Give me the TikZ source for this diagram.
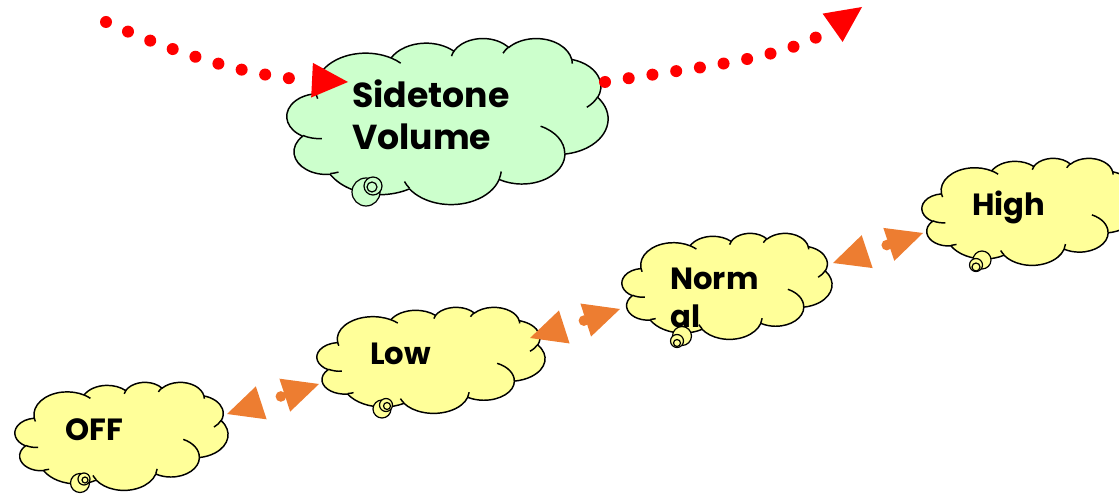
\documentclass[tikz,border=0pt]{standalone}
\usepackage{fontspec}
\setmainfont{Poppins}
\usetikzlibrary{arrows.meta}
\definecolor{cgreen}{HTML}{CCFFCC}
\definecolor{cyellow}{HTML}{FFFF99}
\definecolor{corange}{HTML}{ED7D31}
\definecolor{cred}{HTML}{FF0000}

% elliptic arc given DrawingML style (geometric angles in the shape's own square space)
\newcommand\carc[4]{arc[start angle={atan2(\ck*(#1)*sin(#3),(#2)*cos(#3))}, delta angle={mod(atan2(\ck*(#1)*sin((#3)+(#4)),(#2)*cos((#3)+(#4)))-atan2(\ck*(#1)*sin(#3),(#2)*cos(#3))+720,360)}, x radius=#1, y radius=#2]}

\newcommand\cloudat[6]{%
  \def\ck{1}%
  \pgfmathsetmacro\cux{#4*0.75/432}%
  \pgfmathsetmacro\cuy{#5*0.75/432}%
  \begin{scope}[shift={(#2,#3)}, x=\cux pt, y=-\cuy pt]
    \path[cloudline, fill=#6] (39.00,143.70)
      \carc{67.53}{91.90}{-190.4875}{123.7805}
      \carc{53.33}{72.67}{-144.1024}{89.9452}
      \carc{43.65}{59.45}{-145.8079}{99.7230}
      \carc{48.57}{65.95}{-130.9861}{117.2417}
      \carc{53.33}{72.73}{-78.7089}{109.0269}
      \carc{67.75}{92.20}{-46.2673}{130.2690}
      \carc{57.85}{78.67}{0.6250}{114.0333}
      \carc{67.52}{92.15}{22.4516}{115.1726}
      \carc{77.20}{105.43}{66.2426}{75.7110}
      \carc{43.60}{59.18}{-274.9421}{146.7356}
      \carc{43.45}{59.45}{-246.8285}{152.5189}
      -- cycle;
    \draw[cloudline]
      (46.93,261.77) \carc{43.45}{59.45}{86.742}{26.4295}
      (69.28,348.99) \carc{43.60}{59.18}{73.6105}{11.4475}
      (164.78,390.90) \carc{67.52}{92.15}{137.6242}{14.0811}
      (288.27,347.51) \carc{67.52}{92.15}{6.4533}{15.9984}
      (341.29,229.54) \carc{57.85}{78.67}{-70.2924}{70.9174}
      (417.98,153.54) \carc{53.33}{72.73}{30.3180}{27.7515}
      (383.24,54.26) \carc{48.57}{65.95}{-13.7443}{14.8505}
      (290.78,39.52) \carc{48.57}{65.95}{-149.1815}{18.1954}
      (221.41,47.20) \carc{43.65}{59.45}{-163.4943}{17.6864}
      (140.00,51.92) \carc{67.53}{91.90}{-66.7070}{12.3194}
      (41.27,157.89) \carc{67.53}{91.90}{157.6544}{11.8582};
    \coordinate (#1) at (216,216);
  \end{scope}%
}

\tikzset{
  cloudline/.style={draw=black, line width=1.1pt, line join=round},
  tailc/.style={draw=black, line width=0.9pt},
  lbl/.style={font=\fontsize{23}{28}\selectfont\bfseries, inner sep=0pt, anchor=base west, align=left, text=black},
  biglbl/.style={font=\fontsize{26}{32}\selectfont\bfseries, inner sep=0pt, anchor=base west, align=left, text=black},
  oarrow/.style={draw=corange, line width=8pt, line cap=round,
    dash pattern=on 0pt off 1000pt, dash phase=984.5pt,
    arrows={Triangle[length=27pt,width=26pt,line width=0pt]-Triangle[length=27pt,width=26pt,line width=0pt]}},
  rdots/.style={draw=cred, line width=9pt, line cap=round,
    dash pattern=on 0pt off 18pt,
    arrows={-Triangle[length=27pt,width=26pt,line width=0pt]}}
}

\begin{document}
\begin{tikzpicture}[x=0.75pt, y=-0.75pt]
\useasboundingbox (0,0) rectangle (1119,495);

% clouds
\cloudat{sidetone}{287}{38}{321}{166}{cgreen}
\cloudat{off}{15}{382}{213}{108}{cyellow}
\cloudat{low}{317}{307}{228}{106}{cyellow}
\cloudat{normal}{622}{233}{210}{106}{cyellow}
\cloudat{high}{922}{158}{215}{107}{cyellow}

% callout tails
\filldraw[tailc, fill=cgreen] (366,192) circle[radius=14];
\filldraw[tailc, fill=cgreen] (373,186) circle[radius=9];
\filldraw[tailc, fill=cgreen] (372,187) circle[radius=5];

\filldraw[tailc, fill=cyellow] (80,483) circle[radius=9.5];
\filldraw[tailc, fill=cyellow] (84,479) circle[radius=6];
\filldraw[tailc, fill=cyellow] (85,480) circle[radius=3];

\filldraw[tailc, fill=cyellow] (382,409) circle[radius=9];
\filldraw[tailc, fill=cyellow] (386,405) circle[radius=6.5];
\filldraw[tailc, fill=cyellow] (387,406) circle[radius=3.5];

\filldraw[tailc, fill=cyellow] (682,336) circle[radius=9.5];
\filldraw[tailc, fill=cyellow] (677,341) circle[radius=6.5];
\filldraw[tailc, fill=cyellow] (677,343) circle[radius=3.5];

\filldraw[tailc, fill=cyellow] (982,260) circle[radius=9];
\filldraw[tailc, fill=cyellow] (976,265) circle[radius=6.5];
\filldraw[tailc, fill=cyellow] (976,267) circle[radius=4];

% labels (base anchor = baseline of the last line)
\node[biglbl] (sidetonetxt) at (352,150) {Sidetone\\Volume};
\node[lbl] (offtxt) at (65,440) {OFF};
\node[lbl] (lowtxt) at (370,364) {Low};
\node[lbl] (normaltxt) at (670,327) {Norm\\al};
\node[lbl] (hightxt) at (972,215) {High};

% connector end points
\coordinate (offR) at (227,414);
\coordinate (lowL) at (319,384);
\coordinate (lowR) at (530,338);
\coordinate (normalL) at (620,309);
\coordinate (normalR) at (833,263);
\coordinate (highL) at (923,233);
\coordinate (rstart) at (106,22);
\coordinate (sideL) at (348,82);
\coordinate (sideR) at (605,82);
\coordinate (rend) at (862,7);

% orange double arrows
\draw[oarrow] (offR) -- (lowL);
\draw[oarrow] (lowR) -- (normalL);
\draw[oarrow] (normalR) -- (highL);

% red dotted arrows
\draw[rdots] (rstart) .. controls (188,59) and (258,77.5) .. (sideL);
\draw[rdots] (sideR) .. controls (695,67) and (787,60) .. (rend);
\end{tikzpicture}
\end{document}
